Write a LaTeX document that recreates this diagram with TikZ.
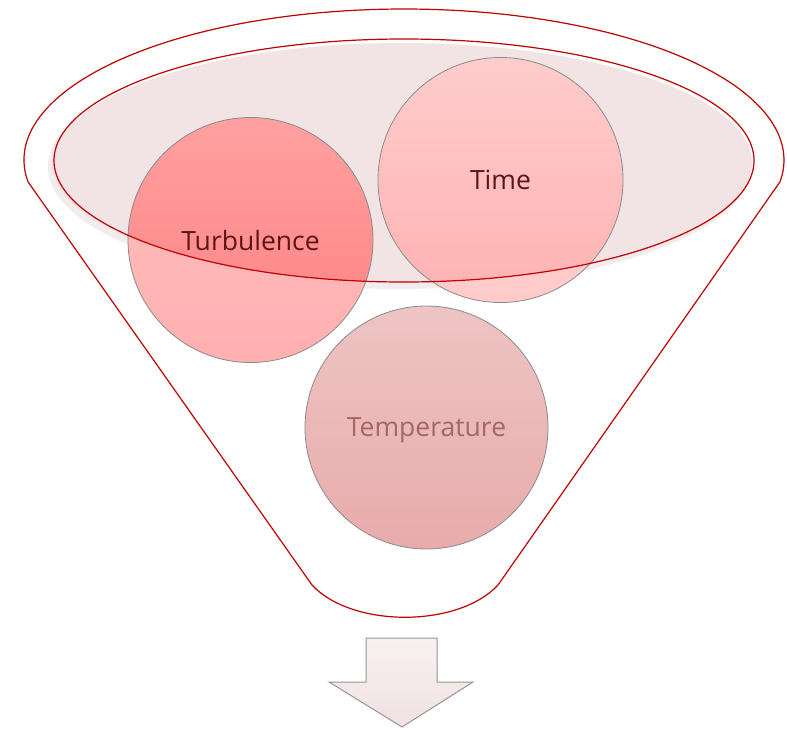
\documentclass[tikz,border=0pt]{standalone}
\usepackage{fontspec}
\setmainfont{Open Sans}
\definecolor{funnelred}{HTML}{C00000}
\definecolor{ellfill}{HTML}{F2E4E4}
\definecolor{ellshadow}{HTML}{F3ECEC}
\definecolor{turbLtop}{HTML}{FFC0C0}
\definecolor{turbLbot}{HTML}{FFB0B0}
\definecolor{turbDtop}{HTML}{FFA0A0}
\definecolor{turbDbot}{HTML}{FF8080}
\definecolor{timeLtop}{HTML}{FFD6D6}
\definecolor{timeLbot}{HTML}{FFCACA}
\definecolor{timeDtop}{HTML}{FFCCCC}
\definecolor{timeDbot}{HTML}{FFB2B2}
\definecolor{tempTop}{HTML}{EEC4C4}
\definecolor{tempBot}{HTML}{E8ABAB}
\definecolor{darktext}{HTML}{5E1414}
\definecolor{temptext}{HTML}{A56666}
\definecolor{bubline}{HTML}{8A8A8A}
\definecolor{arrTop}{HTML}{F8F1F1}
\definecolor{arrBot}{HTML}{F1E1E1}
\definecolor{arrLine}{HTML}{959595}
\tikzset{
  redline/.style={draw=funnelred, line width=1.2pt},
  bubble/.style={circle, draw=bubline, line width=0.8pt, minimum size=245pt, inner sep=0pt,
    text depth=0pt, font=\fontsize{26.5}{30}\selectfont},
}
\begin{document}
\begin{tikzpicture}[x=1pt,y=-1pt]
\useasboundingbox (0,0) rectangle (787,729);
% outer funnel
\coordinate (oc) at (404,160);
\coordinate (bl) at (312,585);
\coordinate (br) at (498,585);
\draw[redline, line join=round] ([shift={(171.7:380 and 151)}]oc)
  arc[start angle=171.7, end angle=368.3, x radius=380, y radius=151]
  -- (br) .. controls (458,628) and (352,628) .. (bl) -- cycle;
% filled ellipse with faint shadow
\fill[ellshadow] (399,167) ellipse[x radius=351, y radius=122];
\fill[ellfill] (402,163) ellipse[x radius=350, y radius=120];
% Turbulence bubble
\shade[top color=turbLtop, bottom color=turbLbot] (250.5,240) circle[radius=122.5];
\begin{scope}
  \clip (404,160.5) ellipse[x radius=350, y radius=121.5];
  \shade[top color=turbDtop, bottom color=turbDbot] (250.5,240) circle[radius=122.5];
\end{scope}
\node[bubble, text=darktext] (turb) at (250.5,240) {Turbulence};
% Time bubble
\shade[top color=timeLtop, bottom color=timeLbot] (500.5,180) circle[radius=122.5];
\begin{scope}
  \clip (404,160.5) ellipse[x radius=350, y radius=121.5];
  \shade[top color=timeDtop, bottom color=timeDbot] (500.5,180) circle[radius=122.5];
\end{scope}
\node[bubble, text=darktext] (time) at (500.5,180) {Time};
% inner red ellipse on top
\draw[redline] (404,160.5) ellipse[x radius=350, y radius=121.5];
% Temperature bubble
\node[bubble, top color=tempTop, bottom color=tempBot, text=temptext, minimum size=243pt] (temp) at (426.5,427.5) {Temperature};
% down arrow
\draw[arrLine, line width=1pt, line join=miter, top color=arrTop, bottom color=arrBot]
  (366,638) -- (437,638) -- (437,682) -- (473,682) -- (402,727) -- (329,682) -- (366,682) -- cycle;
\end{tikzpicture}
\end{document}
